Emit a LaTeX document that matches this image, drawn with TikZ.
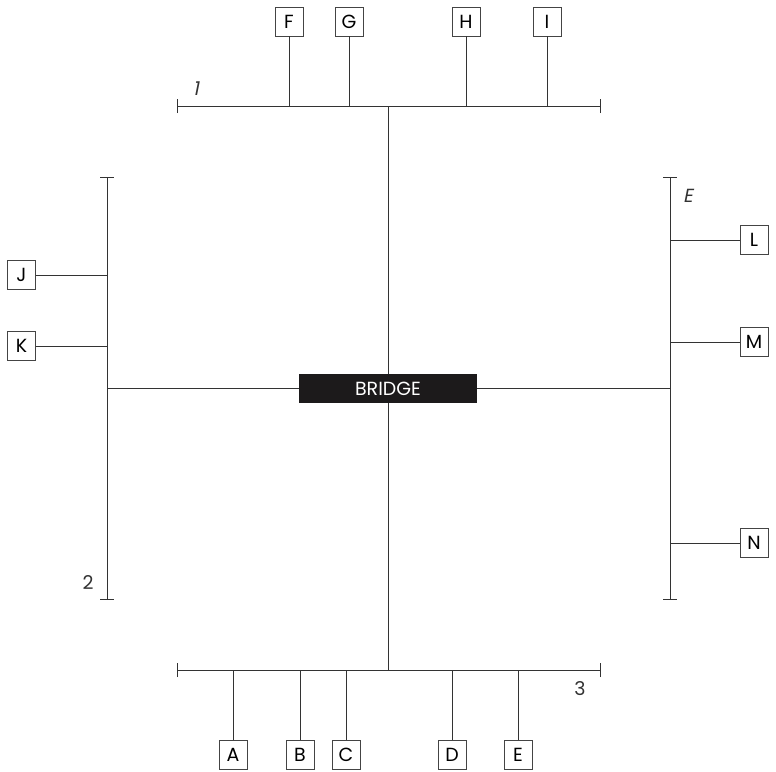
\documentclass[tikz,border=0pt]{standalone}
\usepackage{fontspec}
\setmainfont{Poppins}
\newfontfamily\slantfont[FakeSlant=0.2]{Poppins}
\definecolor{linec}{HTML}{333333}
\definecolor{boxc}{HTML}{444444}
\definecolor{bridgec}{HTML}{1C1A1B}
\begin{document}
\begin{tikzpicture}[x=1pt,y=-1pt,
  lbox/.style={draw=boxc,line width=0.9pt,minimum width=28pt,minimum height=29pt,inner sep=0pt,font=\fontsize{19}{19}\selectfont},
  wire/.style={draw=linec,line width=0.9pt},
  buslabel/.style={font=\fontsize{19}{19}\selectfont,text=linec,inner sep=0pt}]
\useasboundingbox (0,0) rectangle (776,771);
% buses
\coordinate (t1) at (177,106); \coordinate (t2) at (600,106);
\coordinate (b1) at (177,670); \coordinate (b2) at (600,670);
\coordinate (l1) at (107,177); \coordinate (l2) at (107,599);
\coordinate (r1) at (670,177); \coordinate (r2) at (670,599);
\draw[wire] (t1) -- (t2);
\draw[wire] (b1) -- (b2);
\draw[wire] (l1) -- (l2);
\draw[wire] (r1) -- (r2);
% end ticks
\foreach \c in {t1,t2,b1,b2} \draw[wire] ([yshift=-7pt]\c) -- ([yshift=7pt]\c);
\foreach \c in {l1,l2,r1,r2} \draw[wire] ([xshift=-7pt]\c) -- ([xshift=7pt]\c);
% bus labels
\node[buslabel] (n1) at (196,89) {\slantfont 1};
\node[buslabel] (n2) at (88,583) {2};
\node[buslabel] (n3) at (580,689) {3};
\node[buslabel] (nE) at (688,196) {\slantfont E};
% bridge
\node[fill=bridgec,text=white,minimum width=178pt,minimum height=29pt,inner sep=0pt,font=\fontsize{19}{19}\selectfont] (bridge) at (388,388.5) {BRIDGE};
\draw[wire] (bridge.north) -- (bridge.north |- t1);
\draw[wire] (bridge.south) -- (bridge.south |- b1);
\draw[wire] (bridge.west) -- (bridge.west -| l1);
\draw[wire] (bridge.east) -- (bridge.east -| r1);
% top boxes
\foreach \n/\x in {F/289,G/349,H/466,I/547}{
  \node[lbox] (\n) at (\x,21.5) {\n};
  \draw[wire] (\n.south) -- (\n.south |- t1);
}
% bottom boxes
\foreach \n/\x in {A/233,B/300,C/346,D/452,E/518}{
  \node[lbox] (\n) at (\x,754.5) {\n};
  \draw[wire] (\n.north) -- (\n.north |- b1);
}
% left boxes
\foreach \n/\y in {J/275,K/346}{
  \node[lbox] (\n) at (21.5,\y) {\n};
  \draw[wire] (\n.east) -- (\n.east -| l1);
}
% right boxes
\foreach \n/\y in {L/240,M/342,N/543}{
  \node[lbox] (\n) at (754,\y) {\n};
  \draw[wire] (\n.west) -- (\n.west -| r1);
}
\end{tikzpicture}
\end{document}
